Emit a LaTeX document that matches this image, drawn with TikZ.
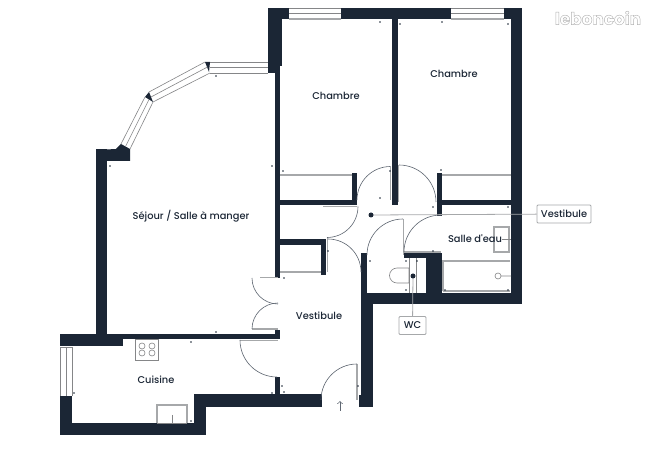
\documentclass[tikz,border=0pt]{standalone}
\usepackage{fontspec}
\setmainfont{Poppins}
\newfontfamily\labelfont{Poppins Medium}
\definecolor{wallcol}{HTML}{1B2635}
\definecolor{fitcol}{HTML}{A6A8AA}
\tikzset{
	wall/.style={fill=wallcol, draw=none},
	fitting/.style={draw=fitcol, line width=0.7pt},
	thinline/.style={draw=fitcol!80!black, line width=0.35pt},
	swing/.style={draw=wallcol!70, line width=0.35pt},
	roomname/.style={font=\labelfont\fontsize{5.6}{7}\selectfont, text=wallcol, inner sep=0pt},
	tagbox/.style={draw=fitcol, line width=0.5pt, rounded corners=0.6pt, fill=white, font=\labelfont\fontsize{5.6}{7}\selectfont, text=wallcol, inner sep=0pt, minimum height=18*0.2mm},
}
\begin{document}
\begin{tikzpicture}[x=0.2mm, y=0.2mm, yscale=-1]
	\useasboundingbox (0,0) rectangle (650,460);
	% walls
	\foreach \xa/\ya/\xb/\yb in {268/8/289/19, 341/8/451/19, 504/8/522/19, 268/19/282/66, 268/66/280/73,
		275/73/280/278, 392/19/398/205, 511/19/522/304, 361/293/522/304, 361/253/367/293, 361/304/373/407,
		359/395/362/407, 426/253/442/293, 404/253/426/258, 280/200/352/205, 352/173/357/205, 280/239/322/245,
		321/239/326/275, 437/173/442/216, 442/200/511/205, 96/149/107/334, 60/334/123/346, 107/334/280/339,
		275/330/280/339, 60/396/72/435, 60/423/206/435, 194/397/206/435, 194/394/322/407, 275/377/280/395}
	{
		\fill[wall] (\xa,\ya) rectangle (\xb,\yb);
	}
	\fill[wall] (96,150) -- (116,149) -- (121,144) -- (130,149) -- (130,161) -- (107,161) -- (96,161) -- cycle;
	\fill[wall] (145,97) -- (149,92) -- (153,102) -- cycle;
	\fill[wall] (205,62) -- (210,62) -- (209,72) -- cycle;
	% windows
	\foreach \xa/\xb in {289/341, 451/504}
	{
		\draw[thinline] (\xa,8) -- (\xb,8) (\xa,13) -- (\xb,13);
		\draw[fitting] (\xa,19) -- (\xb,19);
	}
	\draw[thinline] (210,62) -- (268,62) (210,67.5) -- (268,67.5) (210,73) -- (268,73);
	\draw[thinline] (149,92) -- (205,62) (151,97) -- (207.5,67) (153,102) -- (210,73);
	\draw[thinline] (121,144) -- (145,97) (125.5,146.5) -- (149,99.5) (130,149) -- (153,102);
	\draw[thinline] (60,347) -- (60,396) (66,347) -- (66,396) (72,347) -- (72,396) (60,347) -- (72,347);
	% door leaves and swings
	\draw[fitting] (323,206.5) -- (357,206.5);
	\draw[swing] (358,206.5) arc (0:90:31);
	\draw[fitting] (327.5,238) -- (327.5,272);
	\draw[swing] (361,272) arc (0:-90:33);
	\draw[fitting] (390.5,167) -- (390.5,200);
	\draw[swing] (357,200) arc (180:270:33.5);
	\draw[fitting] (398.5,165) -- (398.5,202);
	\draw[swing] (436,202) arc (0:-90:37);
	\draw[fitting] (403.5,219) -- (403.5,255);
	\draw[swing] (367,255) arc (180:270:36);
	\draw[fitting] (404,252) -- (441,252);
	\draw[swing] (404,252) arc (180:270:37);
	\draw[fitting] (252,329) -- (278,329);
	\draw[swing] (252,329) arc (180:270:26);
	\draw[fitting] (260,277.5) -- (278,277.5);
	\draw[swing] (252,278) arc (180:90:26);
	\draw[fitting] (240,340.5) -- (278,340.5);
	\draw[swing] (240,340) arc (180:90:37);
	\draw[fitting] (357,364) -- (357,400);
	\draw[swing] (321,400) arc (180:270:36);
	\draw[swing, ->] (340,411) -- (340,401);
	% closets
	\draw[fitting] (280,175) -- (352,175) (442,175) -- (511,175) (280,272) -- (321,272);
	% kitchen
	\draw[thinline] (135,339) rectangle (158,360);
	\foreach \cx in {142,152}
		\foreach \cy in {346,353}
			\draw[thinline] (\cx,\cy) circle (3);
	\draw[fitting] (157,423) -- (157,405) -- (187,405) -- (187,423);
	\draw[thinline] (172,415) -- (172,423) (157,423) -- (187,423);
	% bathroom
	\draw[fitting] (494,227) rectangle (509,252);
	\draw[thinline] (502,239) -- (511,239);
	\draw[fitting] (443,291) -- (443,261) -- (510,261) (443,291) -- (510,291);
	\draw[thinline] (498,276) circle (3) (501,276) -- (511,276);
	% wc
	\draw[thinline] (409,268) -- (397,268) arc (270:90:7.5) -- (409,283) -- cycle;
	\draw[thinline] (409,258) -- (409,293) (416.5,258) -- (416.5,293);
	% small marks
	\foreach \mx/\my in {380/22, 400/24, 442/22, 508/24, 272/166, 283/171, 390/171, 380/198, 441/170, 433/207,
		508/207, 328/251, 370/261, 284/278, 406/261, 417/261, 406/290, 433/251, 445/290, 508/290, 216/332,
		191/342, 282/386, 272/393, 284/392, 358/386, 74/393, 191/421, 216/76, 110/166}
	{
		\fill[wallcol] (\mx,\my) circle (0.9);
	}
	% room names
	\node[roomname] (chambreA) at (336,96) {Chambre};
	\node[roomname] (chambreB) at (454,74) {Chambre};
	\node[roomname] (sejour) at (191,216) {Séjour / Salle à manger};
	\node[roomname] (salleEau) at (475,239) {Salle d'eau};
	\node[roomname] (vestibule) at (319,316) {Vestibule};
	\node[roomname] (cuisine) at (156,380) {Cuisine};
	% tags
	\coordinate (dotVest) at (371,215);
	\coordinate (dotWc) at (413,276);
	\node[tagbox, minimum width=54*0.2mm] (tagVest) at (564,214) {Vestibule};
	\node[tagbox, minimum width=27*0.2mm] (tagWc) at (412.5,325.5) {WC};
	\draw[fitting, line width=0.45pt] (dotVest) -- (tagVest);
	\draw[fitting, line width=0.45pt] (dotWc) -- (tagWc);
	\fill[wallcol] (dotVest) circle (2.5) (dotWc) circle (2.5);
	% watermark
	\node[font=\bfseries\fontsize{9.6}{12}\selectfont, text=gray!60, inner sep=0pt] (logo) at (598,18) {\special{pdf:code 1 Tr 0.25 w}leboncoin\special{pdf:code 0 Tr}};
\end{tikzpicture}
\end{document}
